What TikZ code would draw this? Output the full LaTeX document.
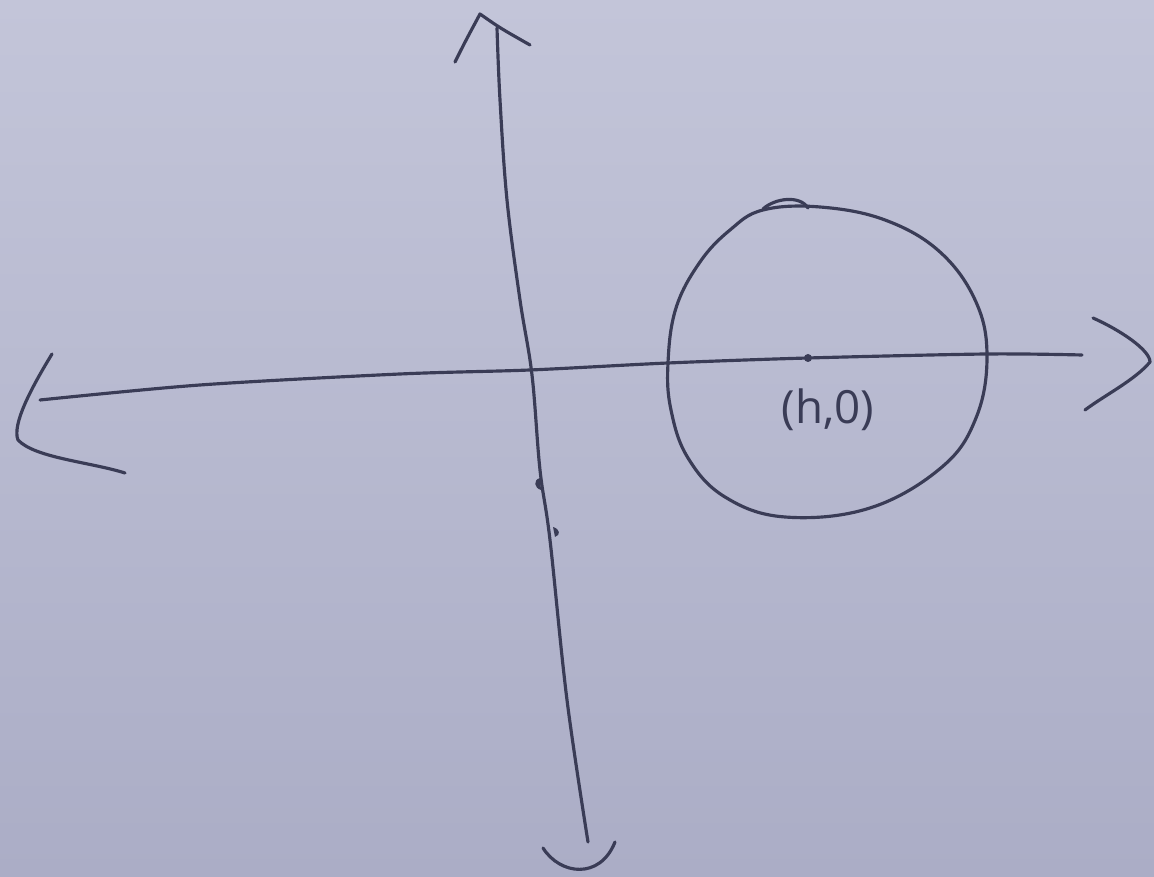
\documentclass[tikz,border=0pt]{standalone}
\usepackage{fontspec}
\setmainfont{Open Sans}
\definecolor{paperTop}{HTML}{C3C5D9}
\definecolor{paperBot}{HTML}{ABADC6}
\definecolor{ink}{HTML}{3A3C56}
\tikzset{
  pen/.style={draw=ink, line width=0.9pt, line cap=round, line join=round},
  lbl/.style={text=ink, font=\fontsize{13}{15}\selectfont, inner sep=1pt},
  dotmark/.style={circle, fill=ink, inner sep=0pt, minimum size=0.08cm},
}
\begin{document}
\begin{tikzpicture}[x=0.01cm, y=-0.01cm]
\useasboundingbox (0,0) rectangle (1154,877);
\shade[top color=paperTop, bottom color=paperBot] (0,0) rectangle (1154,877);

% named points
\coordinate (ytop) at (497,28);
\coordinate (ybot) at (588,842);
\coordinate (xleft) at (40,400);
\coordinate (xright) at (1082,355);
\coordinate (ctr) at (808,358);

% vertical axis
\draw[pen] plot[smooth, tension=0.6] coordinates {(ytop) (500,100) (507,200) (520,300) (532,375) (540,470) (550,540) (567,700) (ybot)};
% top arrowhead
\draw[pen] (455,62) .. controls (465,42) .. (480,14) .. controls (500,28) .. (530,45);
% bottom arrowhead
\draw[pen] (543,848) .. controls (560,875) and (600,880) .. (615,842);
% small blobs on vertical axis
\fill[ink] (540,478) .. controls (533,480) and (534,488) .. (541,490) -- cycle;
\fill[ink] (553,527) .. controls (560,529) and (561,535) .. (555,537) -- cycle;

% horizontal axis
\draw[pen] plot[smooth, tension=0.5] coordinates {(xleft) (200,385) (400,374) (530,370) (668,363) (ctr) (987,354) (xright)};
% left arrowhead
\draw[pen] (52,354) .. controls (30,390) and (12,425) .. (18,440) .. controls (35,458) and (90,462) .. (125,473);
% right arrowhead
\draw[pen] (1093,318) .. controls (1120,330) and (1150,350) .. (1150,362) .. controls (1135,380) and (1105,395) .. (1085,410);

% circle (hand drawn)
\draw[pen] plot[smooth cycle, tension=0.65] coordinates {
  (820,207) (885,220) (940,252) (976,302) (987,357) (976,418) (942,467)
  (870,508) (785,517) (725,497) (688,458) (671,410) (668,363) (676,308)
  (700,262) (730,230) (763,210)};
% small bump at top of circle
\draw[pen] (763,209) .. controls (775,198) and (800,195) .. (808,208);

% centre dot and label
\node[dotmark] (dot) at (ctr) {};
\node[lbl] (lab) at (828,410) {(h,0)};
\end{tikzpicture}
\end{document}
